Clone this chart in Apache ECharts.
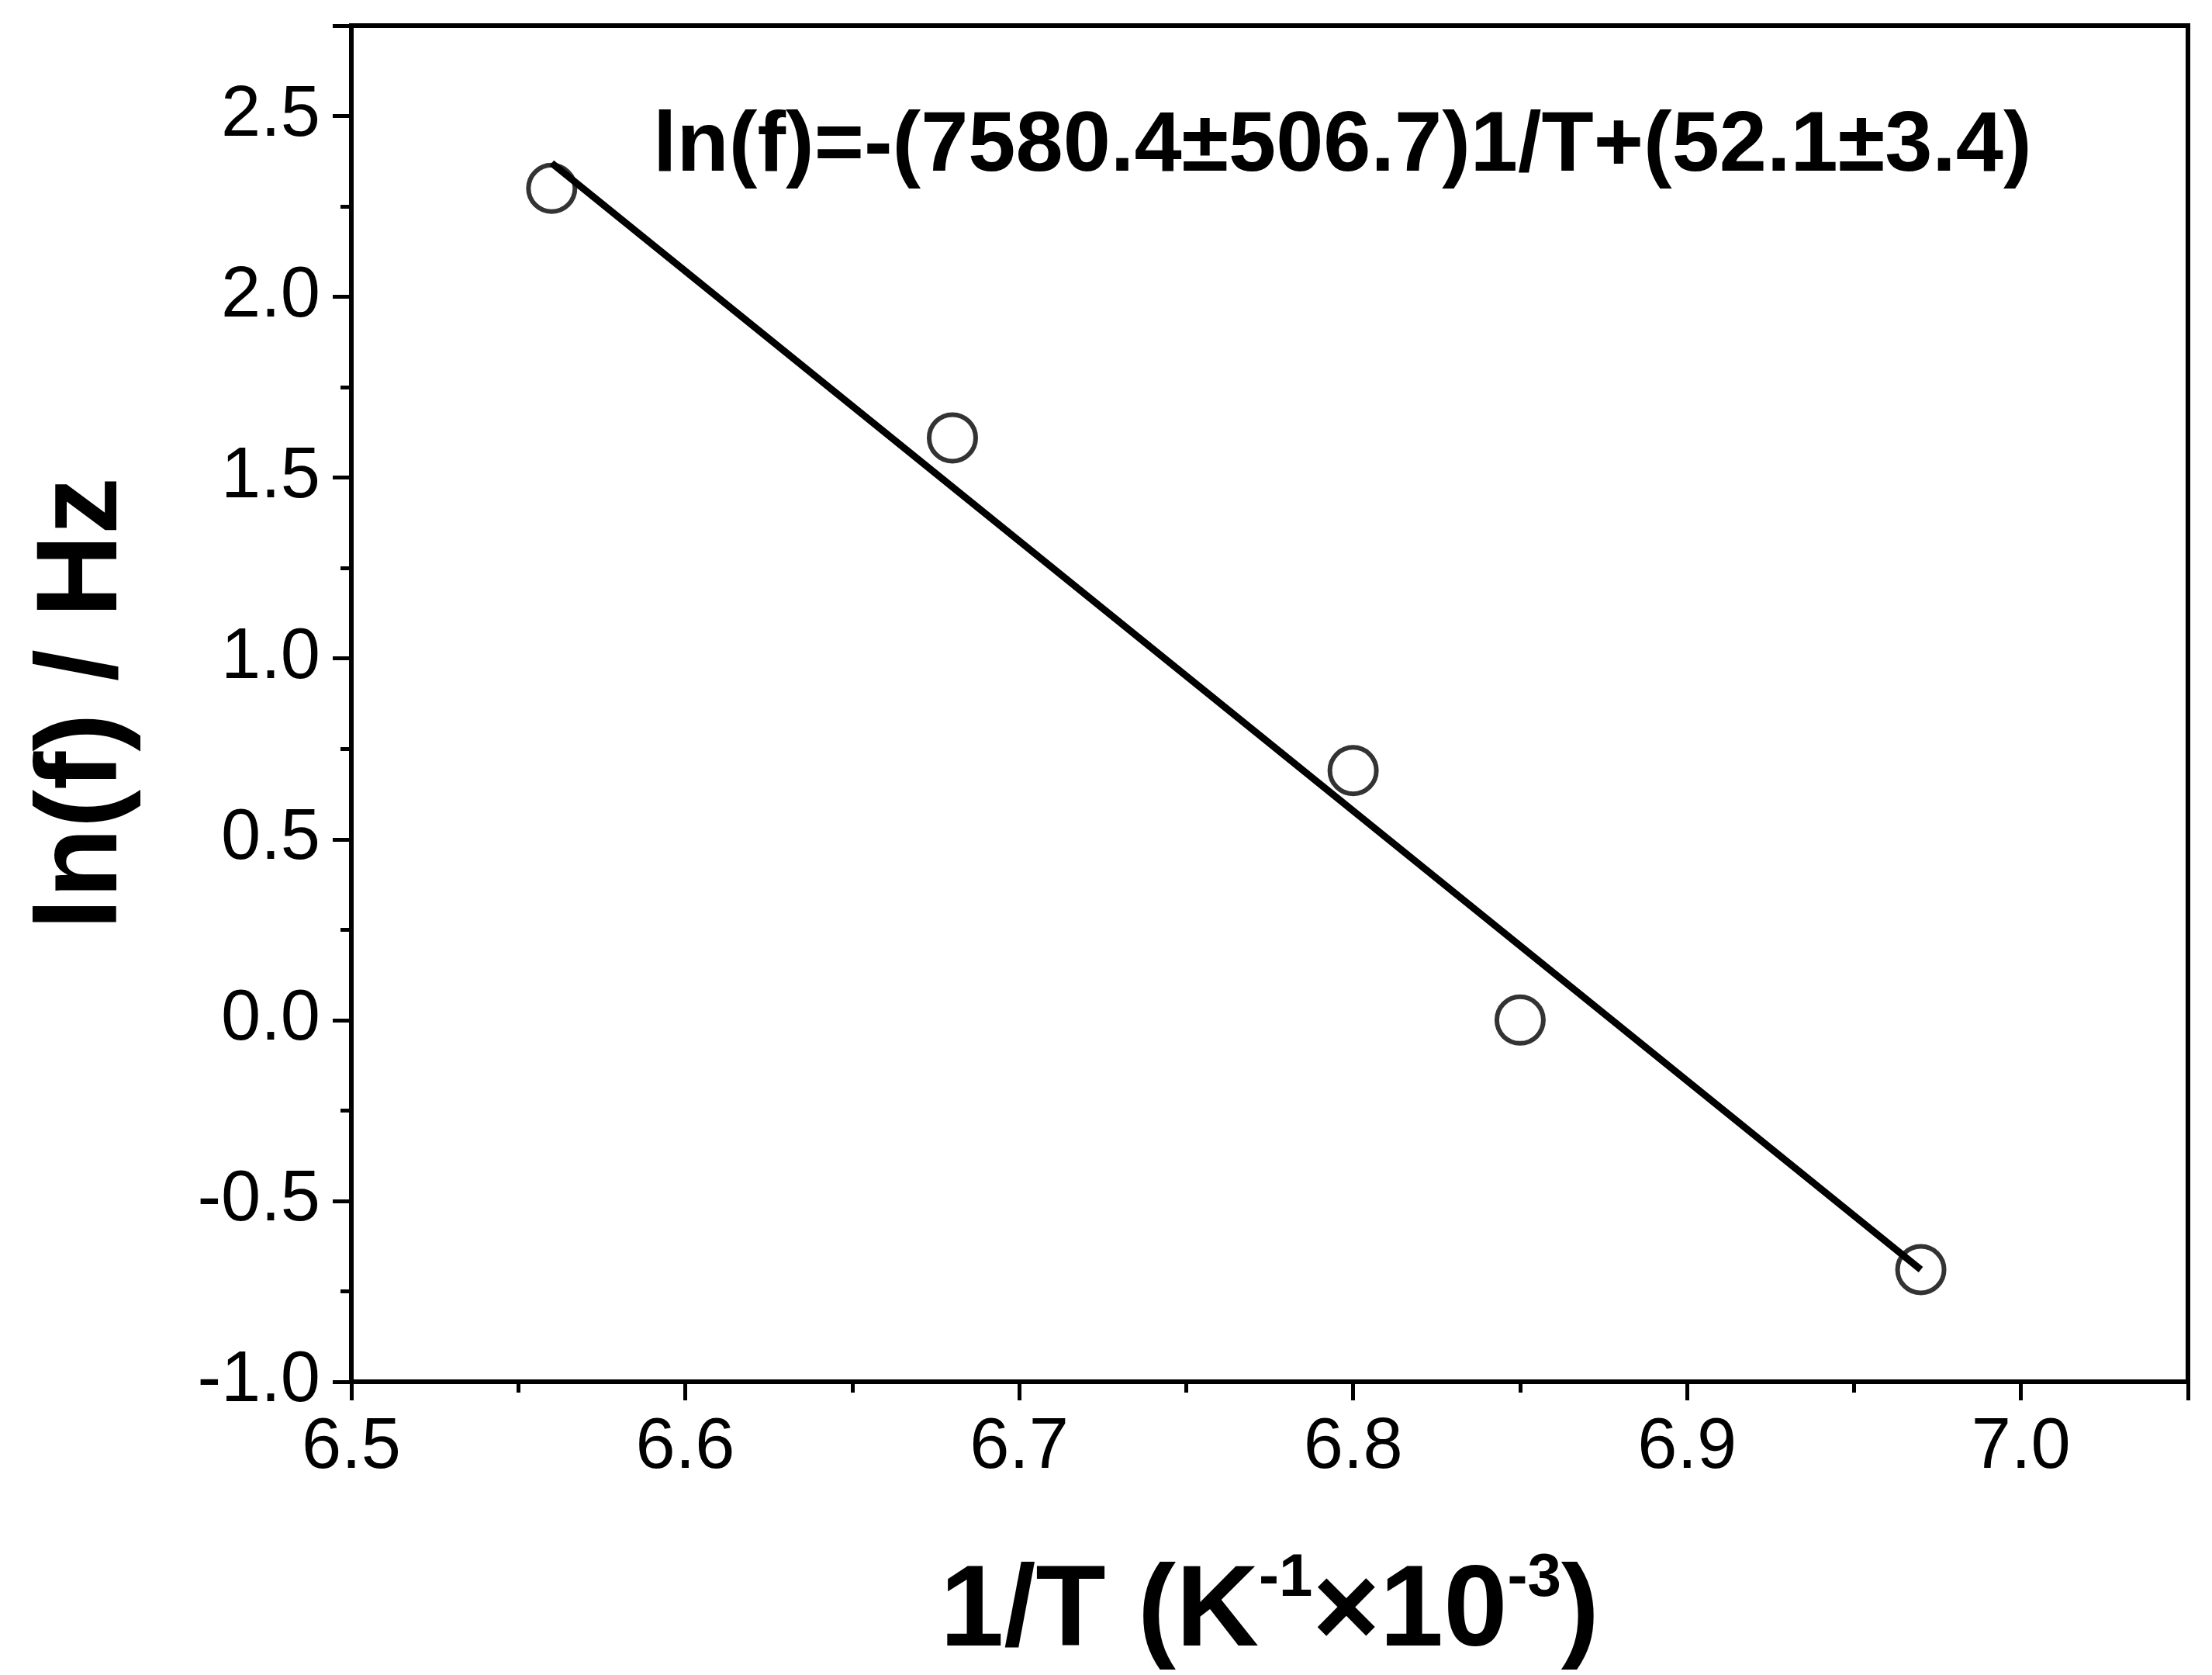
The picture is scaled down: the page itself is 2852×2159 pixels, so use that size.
<!DOCTYPE html>
<html><head><meta charset="utf-8">
<script src="https://cdn.jsdelivr.net/npm/echarts@6/dist/echarts.min.js"></script>
<style>html,body{margin:0;padding:0;background:#fff}#c{width:2852px;height:2159px}</style>
</head><body><div id="c"></div>
<script>
var invT = [6.56, 6.68, 6.80, 6.85, 6.97];
var lnF = [2.30, 1.61, 0.69, 0.00, -0.69];
var fitX = [6.56, 6.97];
var fitY = [2.37, -0.69];
var equation = 'ln(f)=-(7580.4±506.7)1/T+(52.1±3.4)';
var font = '"Liberation Sans", Arial, sans-serif';
var chart = echarts.init(document.getElementById('c'));
chart.setOption({
  backgroundColor: '#fff',
  animation: false,
  grid: {left: 453, right: 31, top: 33, bottom: 364, show: true, borderColor: '#000', borderWidth: 6, backgroundColor: 'transparent'},
  xAxis: {
    type: 'value', min: 6.5, max: 7.05, interval: 0.1,
    axisLine: {onZero: false, lineStyle: {color: '#000', width: 6}},
    axisTick: {inside: false, length: 24, lineStyle: {color: '#000', width: 5}},
    minorTick: {show: true, splitNumber: 2, length: 14, lineStyle: {color: '#000', width: 5}},
    splitLine: {show: false},
    axisLabel: {fontFamily: font, fontSize: 92, color: '#000', margin: 40,
      formatter: function (v) { return v > 7.01 ? '' : v.toFixed(1); }},
    name: '{n|1/T (K}{s|-1}{n|×10}{s|-3}{n|)}', nameLocation: 'middle', nameGap: 215,
    nameTextStyle: {rich: {
      n: {fontFamily: font, fontSize: 148, fontWeight: 'bold', color: '#000', verticalAlign: 'bottom'},
      s: {fontFamily: font, fontSize: 78, fontWeight: 'bold', color: '#000', verticalAlign: 'top', padding: [0, 0, 80, 0]}
    }}
  },
  yAxis: {
    type: 'value', min: -1, max: 2.75, interval: 0.5,
    axisLine: {onZero: false, lineStyle: {color: '#000', width: 6}},
    axisTick: {inside: false, length: 24, lineStyle: {color: '#000', width: 5}},
    minorTick: {show: true, splitNumber: 2, length: 14, lineStyle: {color: '#000', width: 5}},
    splitLine: {show: false},
    axisLabel: {fontFamily: font, fontSize: 92, color: '#000', margin: 40,
      formatter: function (v) { return v > 2.6 ? '' : v.toFixed(1); }},
    name: 'ln(f) / Hz', nameLocation: 'middle', nameGap: 270,
    nameTextStyle: {fontFamily: font, fontSize: 148, fontWeight: 'bold', color: '#000'}
  },
  series: [
    {type: 'line', data: fitX.map(function (x, i) { return [x, fitY[i]]; }),
     symbol: 'none', lineStyle: {color: '#000', width: 9}, z: 2},
    {type: 'scatter', data: invT.map(function (x, i) { return [x, lnF[i]]; }),
     symbol: 'circle', symbolSize: 60, itemStyle: {color: 'rgba(255,255,255,0)', borderColor: '#000', borderWidth: 6}, z: 3}
  ],
  graphic: [{type: 'text', left: 842, top: 135,
    style: {text: equation, font: 'bold 110px "Liberation Sans Narrow", "Liberation Sans", sans-serif', fill: '#000'}}]
});
</script></body></html>
